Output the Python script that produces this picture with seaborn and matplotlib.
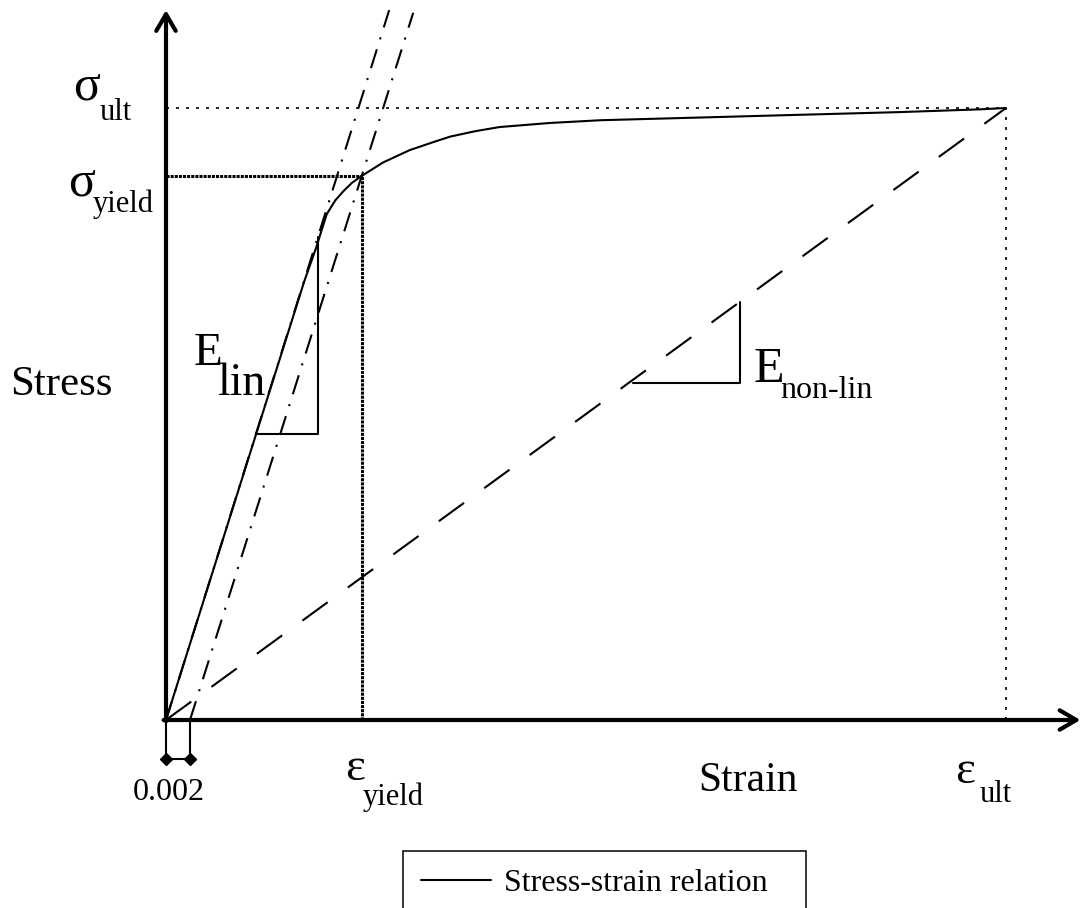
import numpy as np
import matplotlib
matplotlib.use("Agg")
import matplotlib.pyplot as plt
import seaborn as sns

# Stress-strain curve (strain [-], stress [MPa])
strain = [0, 0.004, 0.008, 0.0115, 0.0125, 0.0130, 0.0134, 0.0141, 0.0148,
          0.0155, 0.0163, 0.0181, 0.0203, 0.0223, 0.0237, 0.0258, 0.0278,
          0.0320, 0.0362, 0.0445, 0.0528, 0.0612, 0.0678, 0.070]
stress = [0, 112, 224, 322, 347, 361, 372, 382, 389, 395, 400, 410, 419,
          425, 429, 433, 436, 439, 441, 443, 445, 447, 449, 450]

eps_yield, sig_yield = 0.0163, 400
eps_ult, sig_ult = 0.070, 450
offset = 0.002

# linear modulus line and its 0.002 offset
tangent_x = [0, 0.0186]
tangent_y = [0, 522]
offset_x = [0.002, 0.0206]
offset_y = [0, 520]

# secant (non-linear modulus) line
secant_x = [0, eps_ult]
secant_y = [0, sig_ult]

# slope triangles
tri_lin_x = [0.0075, 0.0127, 0.0127]
tri_lin_y = [210, 210, 355]
tri_non_x = [0.0389, 0.0478, 0.0478]
tri_non_y = [248, 248, 307]

# axes extents (arrow tips)
x_axis_end = 0.0762
y_axis_end = 522
marker_y = -29

W, H = 1081, 908
sns.set_theme(style='white')
plt.rcParams['font.family'] = ['Liberation Serif', 'DejaVu Serif']
plt.rcParams['text.color'] = 'black'

fig = plt.figure(figsize=(W / 100, H / 100), dpi=100)
ax = fig.add_axes([0, 0, 1, 1])
ax.set_xlim(-166 / 12000, 915 / 12000)
ax.set_ylim(-(H - 720) / 1.36, 720 / 1.36)
ax.axis('off')

# main curve
sns.lineplot(x=strain, y=stress, color='black', lw=1.5, ax=ax,
             label='Stress-strain relation', sort=False)

# helper lines
ax.plot(tangent_x, tangent_y, color='black', lw=1.5, dashes=(9.5, 5, 1, 5))
ax.plot(offset_x, offset_y, color='black', lw=1.5, dashes=(9.5, 5, 1, 5))
ax.plot(secant_x, secant_y, color='black', lw=1.5, dashes=(15, 12))

# ultimate and yield guides
ax.plot([0, eps_ult], [sig_ult, sig_ult], color='black', lw=1.2, dashes=(1.8, 4.2))
ax.plot([eps_ult, eps_ult], [0, sig_ult], color='black', lw=1.2, dashes=(1.8, 4.2))
ax.plot([0, eps_yield], [sig_yield, sig_yield], color='black', lw=2.2, dashes=(1, 0.35))
ax.plot([eps_yield, eps_yield], [0, sig_yield], color='black', lw=2.2, dashes=(1, 0.35))

# slope triangles
ax.plot(tri_lin_x, tri_lin_y, color='black', lw=1.5)
ax.plot(tri_non_x, tri_non_y, color='black', lw=1.5)

# 0.002 offset marker
ax.plot([0, 0], [0, marker_y], color='black', lw=1.5)
ax.plot([offset, offset], [0, marker_y], color='black', lw=1.5)
ax.plot([0, offset], [marker_y, marker_y], color='black', lw=1.5,
        marker='D', markersize=6)

# axes with arrows
arrow = dict(arrowstyle='->,head_length=0.6,head_width=0.35', lw=3,
             color='black', shrinkA=0, shrinkB=0, mutation_scale=20)
ax.annotate('', xy=(0, y_axis_end), xytext=(0, -1), arrowprops=arrow)
ax.annotate('', xy=(x_axis_end, 0), xytext=(-0.0002, 0), arrowprops=arrow)


def put(x, y, s, size, ha='left'):
    fig.text(x / W, 1 - y / H, s, fontsize=size, ha=ha, va='baseline',
             color='black')


put(73, 100, 'σ', 36)
put(100, 120, 'ult', 22)
put(68, 195, 'σ', 36)
put(93, 212, 'yield', 22)
put(194, 365, 'E', 34)
put(217, 395, 'lin', 33)
put(10, 395, 'Stress', 31)
put(754, 382, 'E', 36)
put(780, 398, 'non-lin', 23)
put(169, 800, '0.002', 23, ha='center')
put(345, 780, 'ε', 34)
put(363, 805, 'yield', 22)
put(698, 791, 'Strain', 30)
put(955, 783, 'ε', 34)
put(980, 802, 'ult', 22)

leg = ax.legend(loc='upper left', mode='expand', fontsize=23,
                bbox_to_anchor=(403 / W, 1 - 851 / H, (806 - 403) / W, 0),
                bbox_transform=fig.transFigure, fancybox=False, framealpha=1,
                edgecolor='black', borderaxespad=0, borderpad=0.55,
                handlelength=2.2, handletextpad=0.4)
leg.get_frame().set_linewidth(1.1)
for t in leg.get_texts():
    t.set_color('black')

fig.savefig('out.png', dpi=100)
